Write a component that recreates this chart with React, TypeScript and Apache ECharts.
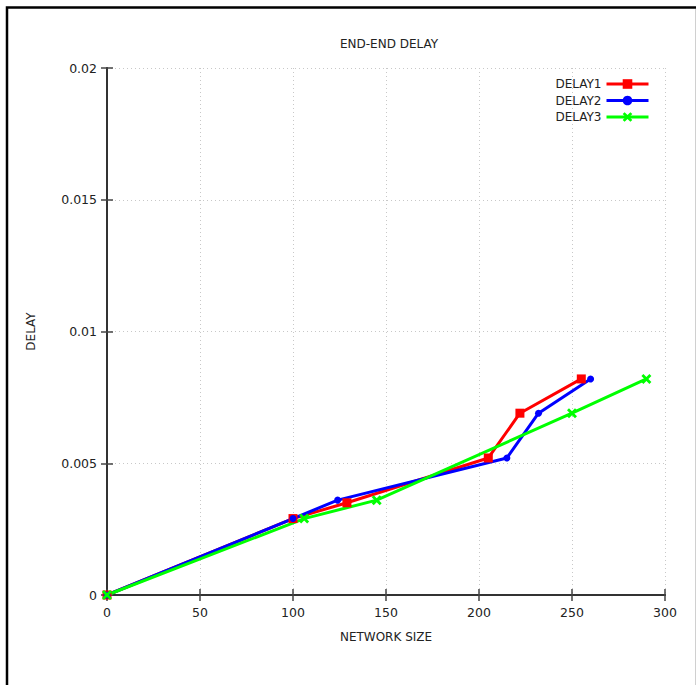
import React, { useEffect, useRef } from "react";
import * as echarts from "echarts";

const delay1X = [0, 100, 129, 205, 222, 255];
const delay1Y = [0, 0.0029, 0.0035, 0.0052, 0.0069, 0.0082];
const delay2X = [0, 100, 124, 215, 232, 260];
const delay2Y = [0, 0.0029, 0.0036, 0.0052, 0.0069, 0.0082];
const delay3X = [0, 106, 145, 250, 290];
const delay3Y = [0, 0.0029, 0.0036, 0.0069, 0.0082];
const seriesNames = ["DELAY1", "DELAY2", "DELAY3"];

const FONT = "DejaVu Sans";
const crossPath =
  "path://M2,0 L5,3 L8,0 L10,2 L7,5 L10,8 L8,10 L5,7 L2,10 L0,8 L3,5 L0,2 Z";

function pairs(xs: number[], ys: number[]) {
  return xs.map((x, i) => [x, ys[i]]);
}

export default function App() {
  const ref = useRef<HTMLDivElement>(null);
  useEffect(() => {
    if (!ref.current) return;
    const chart = echarts.init(ref.current, null, { renderer: "svg" });
    const axisLine = { show: true, lineStyle: { color: "#333", width: 2 } };
    const tick = { show: true, inside: true, length: 6, lineStyle: { color: "#444", width: 1.5 } };
    const split = { show: true, lineStyle: { color: "#c8c8c8", type: [1, 3] as any, width: 1 } };
    chart.setOption({
      animation: false,
      backgroundColor: "#fff",
      title: {
        text: "END-END DELAY",
        left: 384,
        top: 33,
        textAlign: "center",
        textStyle: { fontFamily: FONT, fontSize: 12, fontWeight: "normal", color: "#222" },
      },
      legend: {
        orient: "vertical",
        right: 41,
        top: 73,
        align: "right",
        itemWidth: 42,
        itemHeight: 12,
        itemGap: 4.5,
        lineStyle: { width: 3 },
        textStyle: { fontFamily: FONT, fontSize: 12, color: "#222" },
        data: seriesNames,
      },
      grid: { left: 107, right: 31, top: 68, bottom: 90, show: false },
      xAxis: [
        {
          type: "value",
          min: 0,
          max: 300,
          interval: 50,
          name: "NETWORK SIZE",
          nameLocation: "middle",
          nameGap: 36,
          nameTextStyle: { fontFamily: FONT, fontSize: 12, color: "#222" },
          axisLine,
          axisTick: tick,
          splitLine: split,
          axisLabel: { fontFamily: FONT, fontSize: 12.5, color: "#222", margin: 11 },
        },
        {
          type: "value",
          position: "top",
          min: 0,
          max: 300,
          interval: 50,
          axisLine,
          axisTick: tick,
          splitLine: { show: false },
          axisLabel: { show: false },
        },
      ],
      yAxis: [
        {
          type: "value",
          min: 0,
          max: 0.02,
          interval: 0.005,
          name: "DELAY",
          nameLocation: "middle",
          nameGap: 70,
          nameTextStyle: { fontFamily: FONT, fontSize: 12, color: "#222" },
          axisLine,
          axisTick: tick,
          splitLine: split,
          axisLabel: { fontFamily: FONT, fontSize: 12.5, color: "#222", margin: 10 },
        },
        {
          type: "value",
          position: "right",
          min: 0,
          max: 0.02,
          interval: 0.005,
          axisLine,
          axisTick: tick,
          splitLine: { show: false },
          axisLabel: { show: false },
        },
      ],
      series: [
        {
          name: seriesNames[0],
          type: "line",
          data: pairs(delay1X, delay1Y),
          symbol: "rect",
          symbolSize: 9,
          color: "#ff0000",
          lineStyle: { width: 3, color: "#ff0000" },
          itemStyle: { color: "#ff0000" },
        },
        {
          name: seriesNames[1],
          type: "line",
          data: pairs(delay2X, delay2Y),
          symbol: "circle",
          symbolSize: 7,
          color: "#0000ff",
          lineStyle: { width: 3, color: "#0000ff" },
          itemStyle: { color: "#0000ff" },
        },
        {
          name: seriesNames[2],
          type: "line",
          data: pairs(delay3X, delay3Y),
          symbol: crossPath,
          symbolSize: 10,
          color: "#00ff00",
          lineStyle: { width: 3, color: "#00ff00" },
          itemStyle: { color: "#00ff00" },
        },
      ],
      graphic: [
        {
          type: "rect",
          shape: { x: 7, y: 7.5, width: 720, height: 720 },
          style: { fill: "none", stroke: "#000", lineWidth: 2.5 },
          silent: true,
        },
        {
          type: "line",
          shape: { x1: 695.5, y1: 9, x2: 695.5, y2: 685 },
          style: { stroke: "#d0d0d0", lineWidth: 1 },
          silent: true,
        },
      ],
    });
    return () => chart.dispose();
  }, []);
  return (
    <div
      ref={ref}
      style={{ position: "absolute", left: 0, top: 0, width: 696, height: 685 }}
    />
  );
}
